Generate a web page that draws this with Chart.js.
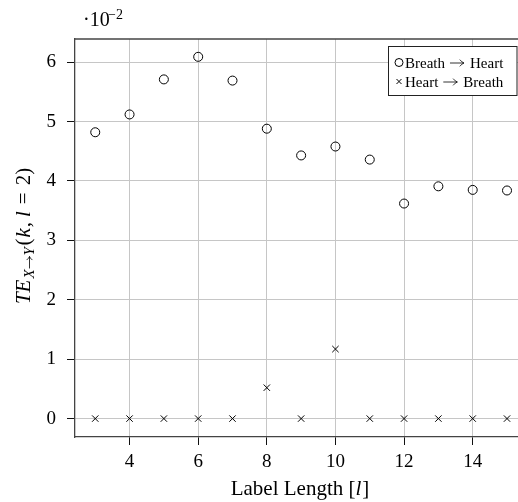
<!DOCTYPE html>
<html>
<head>
<meta charset="utf-8">
<script src="https://cdn.jsdelivr.net/npm/chart.js@4/dist/chart.umd.min.js"></script>
<style>
  html, body { margin: 0; padding: 0; background: #fff; overflow: hidden; }
  canvas { display: block; }
</style>
</head>
<body>
<canvas id="teChart" width="518" height="502"></canvas>
<script>
'use strict';

// label lengths on the x axis
var labelLength = [3, 4, 5, 6, 7, 8, 9, 10, 11, 12, 13, 14, 15];
// transfer entropy values, in units of 1e-2
var breathToHeart = [4.82, 5.12, 5.71, 6.09, 5.69, 4.88, 4.43, 4.58, 4.36, 3.62, 3.91, 3.85, 3.84];
var heartToBreath = [0, 0, 0, 0, 0, 0.52, 0, 1.17, 0, 0, 0, 0, 0];
var seriesNames = ['Breath \u2192 Heart', 'Heart \u2192 Breath'];
var xTicks = [4, 6, 8, 10, 12, 14];
var yTicks = [0, 1, 2, 3, 4, 5, 6];

var SERIF = "'Liberation Serif', 'DejaVu Serif', serif";
var AXIS_COL = '#444';
var GRID_COL = '#c6c6c6';

function toPoints(values) {
  return labelLength.map(function (x, i) { return { x: x, y: values[i] }; });
}

// frame line along the top of the plot
var topFrame = {
  id: 'topFrame',
  afterDraw: function (chart) {
    var ctx = chart.ctx, a = chart.chartArea;
    ctx.save();
    ctx.strokeStyle = AXIS_COL;
    ctx.lineWidth = 1.3;
    ctx.beginPath();
    ctx.moveTo(a.left, a.top);
    ctx.lineTo(a.right, a.top);
    ctx.stroke();
    ctx.restore();
  }
};

// runs are [text, size, style, dy, gapAfter]
// style: 'i' italic, '>' a drawn arrow whose length is the size
function runFont(r) {
  return (r[2] === 'i' ? 'italic ' : '') + r[1] + 'px ' + SERIF;
}

function drawArrow(ctx, x, y, len, head) {
  ctx.save();
  ctx.strokeStyle = ctx.fillStyle;
  ctx.lineWidth = 0.8;
  ctx.beginPath();
  ctx.moveTo(x, y);
  ctx.lineTo(x + len, y);
  ctx.moveTo(x + len - head, y - head * 0.8);
  ctx.quadraticCurveTo(x + len - head * 0.4, y - head * 0.1, x + len, y);
  ctx.quadraticCurveTo(x + len - head * 0.4, y + head * 0.1, x + len - head, y + head * 0.8);
  ctx.stroke();
  ctx.restore();
}

function drawRuns(ctx, runs, x, y, centred) {
  var total = 0;
  runs.forEach(function (r) {
    if (r[2] === '>') {
      r.w = r[1] + (r[4] || 0);
    } else {
      ctx.font = runFont(r);
      r.w = ctx.measureText(r[0]).width + (r[4] || 0);
    }
    total += r.w;
  });
  var cx = centred ? x - total / 2 : x;
  runs.forEach(function (r) {
    if (r[2] === '>') {
      drawArrow(ctx, cx, y + (r[3] || 0), r[1], r[1] * 0.3);
    } else {
      ctx.font = runFont(r);
      ctx.fillText(r[0], cx, y + (r[3] || 0));
    }
    cx += r.w;
  });
}

// axis titles and the 10^-2 multiplier
var axisText = {
  id: 'axisText',
  afterDraw: function (chart) {
    var ctx = chart.ctx;
    ctx.save();
    ctx.fillStyle = '#000';
    ctx.textAlign = 'left';
    ctx.textBaseline = 'alphabetic';

    // multiplier above the y axis
    ctx.font = '20px ' + SERIF;
    ctx.fillText('\u00b710', 83, 26);
    ctx.font = '14px ' + SERIF;
    ctx.fillText('\u22122', 108, 19);

    // x title
    drawRuns(ctx, [
      ['Label Length [', 21, ''],
      ['l', 21, 'i', 0, 1],
      [']', 21, '']
    ], 300, 495, true);

    // y title, rotated
    ctx.translate(30, 236);
    ctx.rotate(-Math.PI / 2);
    drawRuns(ctx, [
      ['TE', 21, 'i', 0, 1],
      ['X', 15, 'i', 4, 1],
      ['', 12, '>', -0.5, 1],
      ['Y', 15, 'i', 4, 1.5],
      ['(', 21, '', 0, 1],
      ['k', 21, 'i', 0, 1],
      [',', 21, '', 0, 5],
      ['l', 21, 'i', 0, 7],
      ['=', 21, '', 0, 7],
      ['2)', 21, '']
    ], 0, 0, true);
    ctx.restore();
  }
};

// boxed legend in the top right corner of the plot
var boxLegend = {
  id: 'boxLegend',
  afterDraw: function (chart) {
    var ctx = chart.ctx;
    var left = 388.5, top = 46.5, right = 517, bottom = 95.5;
    ctx.save();
    ctx.fillStyle = '#fff';
    ctx.fillRect(left, top, right - left, bottom - top);
    ctx.strokeStyle = '#222';
    ctx.lineWidth = 1;
    ctx.strokeRect(left, top, right - left, bottom - top);

    ctx.fillStyle = '#000';
    ctx.textBaseline = 'alphabetic';
    ctx.textAlign = 'left';
    var rows = [62.5, 81.5];
    chart.data.datasets.forEach(function (ds, i) {
      var y = rows[i];
      ctx.strokeStyle = '#000';
      ctx.lineWidth = 1;
      ctx.beginPath();
      if (ds.pointStyle === 'circle') {
        ctx.arc(399, y, 4, 0, Math.PI * 2);
      } else {
        ctx.moveTo(396.5, y - 2.5); ctx.lineTo(401.5, y + 2.5);
        ctx.moveTo(396.5, y + 2.5); ctx.lineTo(401.5, y - 2.5);
      }
      ctx.stroke();
      var parts = ds.label.split(' \u2192 ');
      drawRuns(ctx, [
        [parts[0], 15, '', 0, 5],
        ['', 14, '>', -4.5, 6],
        [parts[1], 15, '']
      ], 405, y + 5, false);
    });
    ctx.restore();
  }
};

var tickFont = { family: SERIF, size: 19 };

new Chart(document.getElementById('teChart'), {
  type: 'scatter',
  data: {
    datasets: [{
      label: seriesNames[0],
      data: toPoints(breathToHeart),
      pointStyle: 'circle',
      pointRadius: 4.5,
      pointBorderWidth: 1,
      borderColor: '#000',
      backgroundColor: 'rgba(0,0,0,0)'
    }, {
      label: seriesNames[1],
      data: toPoints(heartToBreath),
      pointStyle: 'crossRot',
      pointRadius: 4.5,
      pointBorderWidth: 1,
      borderColor: '#000',
      backgroundColor: '#000'
    }]
  },
  options: {
    responsive: false,
    animation: false,
    devicePixelRatio: 1,
    layout: { autoPadding: false, padding: { top: 39, left: 0, right: 0, bottom: 0 } },
    plugins: {
      legend: { display: false },
      tooltip: { enabled: false }
    },
    scales: {
      x: {
        type: 'linear',
        min: 2.41,
        max: 15.32,
        afterBuildTicks: function (s) { s.ticks = xTicks.map(function (v) { return { value: v }; }); },
        afterFit: function (s) { s.height = 65; s.paddingLeft = 0; s.paddingRight = 0; },
        grid: { color: GRID_COL, tickColor: '#111', tickLength: 8, lineWidth: 1 },
        border: { color: AXIS_COL, width: 1.3 },
        ticks: { font: tickFont, color: '#000', padding: 6, maxRotation: 0 }
      },
      y: {
        type: 'linear',
        min: -0.31,
        max: 6.39,
        afterBuildTicks: function (s) { s.ticks = yTicks.map(function (v) { return { value: v }; }); },
        afterFit: function (s) { s.width = 75; s.paddingTop = 0; s.paddingBottom = 0; },
        grid: { color: GRID_COL, tickColor: '#111', tickLength: 8, lineWidth: 1 },
        border: { color: AXIS_COL, width: 1.3 },
        ticks: { font: tickFont, color: '#000', padding: 11 }
      }
    }
  },
  plugins: [topFrame, axisText, boxLegend]
});
</script>
</body>
</html>
